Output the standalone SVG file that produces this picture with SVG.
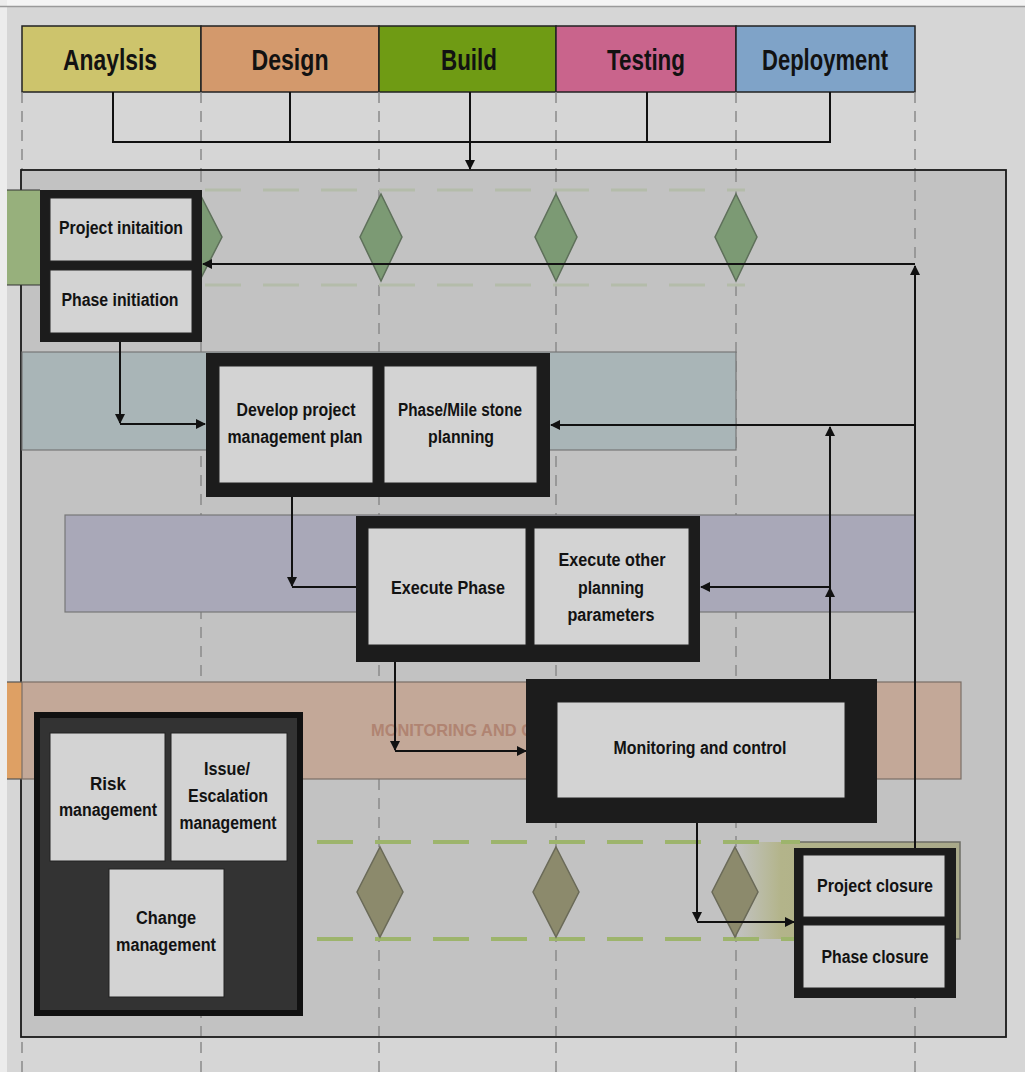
<svg xmlns="http://www.w3.org/2000/svg" width="1025" height="1072" viewBox="0 0 1025 1072">
  <defs>
    <marker id="ah" viewBox="0 0 10 10" refX="9" refY="5" markerWidth="10" markerHeight="10" markerUnits="userSpaceOnUse" orient="auto">
      <path d="M0,0 L10,5 L0,10 z" fill="#111"/>
    </marker>
    <linearGradient id="closeband" x1="0" y1="0" x2="1" y2="0">
      <stop offset="0" stop-color="#b4b890" stop-opacity="0"/>
      <stop offset="0.2" stop-color="#b3b48a"/>
      <stop offset="1" stop-color="#a9a98a"/>
    </linearGradient>
    <style>
      .hdr { stroke: #222; stroke-width: 1.5; }
      .htxt { font-family: "Liberation Sans Narrow", "Liberation Sans", Arial, sans-serif; font-weight: bold; font-size: 30px; fill: #121212; text-anchor: middle; }
      .ntxt { font-family: "Liberation Sans Narrow", "Liberation Sans", Arial, sans-serif; font-weight: bold; font-size: 18px; fill: #121212; text-anchor: middle; }
      .outer { fill: #1c1c1c; }
      .inner { fill: #d3d3d3; stroke: #222; stroke-width: 1; }
      .vdash { stroke: #8a8a8a; stroke-width: 1.5; stroke-dasharray: 11 8; fill: none; }
      .conn { stroke: #111; stroke-width: 2; fill: none; }
      .ms1 { fill: #7c9a74; stroke: #5e705a; stroke-width: 1.5; }
      .ms2 { fill: #8c8a6c; stroke: #6a6a58; stroke-width: 1.5; }
      .mline1 { stroke: #b4bcaa; stroke-width: 3; stroke-dasharray: 36 22; fill: none; }
      .mline2 { stroke: #9db46c; stroke-width: 4; stroke-dasharray: 36 22; fill: none; }
    </style>
  </defs>

  <!-- page -->
  <rect x="0" y="0" width="1025" height="1072" fill="#d6d6d6"/>
  <rect x="0" y="0" width="1025" height="6" fill="#f4f4f4"/>
  <rect x="0" y="0" width="7" height="1072" fill="#ececec"/>
  <line x1="0" y1="6.5" x2="1025" y2="6.5" stroke="#9a9a9a" stroke-width="1.5"/>

  <!-- phase headers -->
  <g id="header-analysis">
    <rect class="hdr" x="22" y="26" width="179" height="66" fill="#cdc46c"/>
    <text class="htxt" x="110" y="70" textLength="94" lengthAdjust="spacingAndGlyphs">Anaylsis</text>
  </g>
  <g id="header-design">
    <rect class="hdr" x="201" y="26" width="178" height="66" fill="#d3996c"/>
    <text class="htxt" x="290" y="70" textLength="77" lengthAdjust="spacingAndGlyphs">Design</text>
  </g>
  <g id="header-build">
    <rect class="hdr" x="379" y="26" width="177" height="66" fill="#6f9b14"/>
    <text class="htxt" x="469" y="70" textLength="56" lengthAdjust="spacingAndGlyphs">Build</text>
  </g>
  <g id="header-testing">
    <rect class="hdr" x="556" y="26" width="180" height="66" fill="#c9648c"/>
    <text class="htxt" x="646" y="70" textLength="78" lengthAdjust="spacingAndGlyphs">Testing</text>
  </g>
  <g id="header-deployment">
    <rect class="hdr" x="736" y="26" width="179" height="66" fill="#7fa3c8"/>
    <text class="htxt" x="825" y="70" textLength="126" lengthAdjust="spacingAndGlyphs">Deployment</text>
  </g>

  <!-- phase boundary guides -->
  <g id="guides">
    <line class="vdash" x1="22" y1="92" x2="22" y2="1072"/>
    <line class="vdash" x1="201" y1="92" x2="201" y2="1072"/>
    <line class="vdash" x1="379" y1="92" x2="379" y2="1072"/>
    <line class="vdash" x1="556" y1="92" x2="556" y2="1072"/>
    <line class="vdash" x1="736" y1="92" x2="736" y2="1072"/>
    <line class="vdash" x1="915" y1="92" x2="915" y2="1072"/>
  </g>

  <!-- process frame -->
  <g id="frame">
    <rect x="21" y="170" width="985" height="867" fill="#c2c2c2" stroke="#1a1a1a" stroke-width="1.8"/>
    <line class="vdash" x1="201" y1="171" x2="201" y2="1036" stroke="#9a9a9a"/>
    <line class="vdash" x1="379" y1="171" x2="379" y2="1036" stroke="#9a9a9a"/>
    <line class="vdash" x1="556" y1="171" x2="556" y2="1036" stroke="#9a9a9a"/>
    <line class="vdash" x1="736" y1="171" x2="736" y2="1036" stroke="#9a9a9a"/>
    <line class="vdash" x1="915" y1="171" x2="915" y2="1036" stroke="#9a9a9a"/>
  </g>

  <!-- swim bands -->
  <g id="bands">
    <rect x="7" y="190" width="33" height="95" fill="#97b07c"/>
    <line x1="7" y1="190" x2="40" y2="190" stroke="#333" stroke-width="1.2"/>
    <line x1="7" y1="285" x2="40" y2="285" stroke="#333" stroke-width="1.2"/>
    <rect x="22" y="352" width="714" height="98" fill="#a9b5b7" stroke="#777" stroke-width="1.2"/>
    <rect x="65" y="515" width="850" height="97" fill="#a9a8b8" stroke="#777" stroke-width="1.2"/>
    <rect x="7" y="682" width="15" height="97" fill="#dea064"/>
    <rect x="22" y="682" width="939" height="97" fill="#c3a898" stroke="#7a6e66" stroke-width="1.2"/>
    <line x1="7" y1="682" x2="22" y2="682" stroke="#555" stroke-width="1.2"/>
    <line x1="7" y1="779" x2="22" y2="779" stroke="#555" stroke-width="1.2"/>
    <text x="371" y="736" font-family="Liberation Sans Narrow, Liberation Sans, sans-serif" font-weight="bold" font-size="17" fill="#b08472" textLength="162" lengthAdjust="spacingAndGlyphs">MONITORING AND C</text>
    <rect x="736" y="842" width="224" height="97" fill="url(#closeband)"/>
    <path d="M800 842 H960 V939 H800" fill="none" stroke="#6e6e66" stroke-width="1.5"/>
  </g>

  <!-- milestones -->
  <g id="milestones">
    <line class="mline1" x1="205" y1="190" x2="745" y2="190"/>
    <line class="mline1" x1="205" y1="285" x2="745" y2="285"/>
    <polygon class="ms1" points="201,196 222,237 201,278 180,237"/>
    <polygon class="ms1" points="381,194 402,237 381,281 360,237"/>
    <polygon class="ms1" points="556,194 577,237 556,281 535,237"/>
    <polygon class="ms1" points="736,194 757,237 736,281 715,237"/>
    <line class="mline2" x1="317" y1="842" x2="800" y2="842"/>
    <line class="mline2" x1="317" y1="939" x2="800" y2="939"/>
    <polygon class="ms2" points="380,847 403,892 380,937 357,892"/>
    <polygon class="ms2" points="556,847 579,892 556,937 533,892"/>
    <polygon class="ms2" points="735,847 758,892 735,937 712,892"/>
  </g>

  <!-- connectors -->
  <g id="connectors">
    <path class="conn" d="M113 92 V142 H830 V92" stroke-width="1.6"/>
    <path class="conn" d="M290 92 V142 M647 92 V142" stroke-width="1.6"/>
    <path class="conn" d="M470 92 V169" stroke-width="1.6" marker-end="url(#ah)"/>
    <path class="conn" d="M120 342 V423" marker-end="url(#ah)"/>
    <path class="conn" d="M120 424 H205" marker-end="url(#ah)"/>
    <path class="conn" d="M292 497 V586" marker-end="url(#ah)"/>
    <path class="conn" d="M292 587 H356"/>
    <path class="conn" d="M395 662 V750" marker-end="url(#ah)"/>
    <path class="conn" d="M395 751 H526" marker-end="url(#ah)"/>
    <path class="conn" d="M697 823 V921" marker-end="url(#ah)"/>
    <path class="conn" d="M697 922 H794" marker-end="url(#ah)"/>
    <path class="conn" d="M915 848 V266" marker-end="url(#ah)"/>
    <path class="conn" d="M915 264 H203" marker-end="url(#ah)"/>
    <path class="conn" d="M915 425 H551" marker-end="url(#ah)"/>
    <path class="conn" d="M830 679 V588" marker-end="url(#ah)"/>
    <path class="conn" d="M830 588 V427" marker-end="url(#ah)"/>
    <path class="conn" d="M830 587 H701" marker-end="url(#ah)"/>
  </g>

  <!-- initiation -->
  <g id="node-initiation">
    <rect class="outer" x="40" y="190" width="162" height="152"/>
    <rect class="inner" x="50" y="198" width="142" height="63"/>
    <rect class="inner" x="50" y="270" width="142" height="63"/>
    <text class="ntxt" x="121" y="234" textLength="124" lengthAdjust="spacingAndGlyphs">Project initaition</text>
    <text class="ntxt" x="120" y="306" textLength="117" lengthAdjust="spacingAndGlyphs">Phase initiation</text>
  </g>

  <!-- planning -->
  <g id="node-planning">
    <rect class="outer" x="206" y="353" width="344" height="144"/>
    <rect class="inner" x="219" y="366" width="154" height="117"/>
    <rect class="inner" x="384" y="366" width="153" height="117"/>
    <text class="ntxt" x="296" y="416" textLength="119" lengthAdjust="spacingAndGlyphs">Develop project</text>
    <text class="ntxt" x="295" y="443" textLength="135" lengthAdjust="spacingAndGlyphs">management plan</text>
    <text class="ntxt" x="460" y="416" textLength="124" lengthAdjust="spacingAndGlyphs">Phase/Mile stone</text>
    <text class="ntxt" x="461" y="443" textLength="66" lengthAdjust="spacingAndGlyphs">planning</text>
  </g>

  <!-- execution -->
  <g id="node-execution">
    <rect class="outer" x="356" y="516" width="344" height="146"/>
    <rect class="inner" x="368" y="528" width="158" height="117"/>
    <rect class="inner" x="534" y="528" width="155" height="117"/>
    <text class="ntxt" x="448" y="594" textLength="114" lengthAdjust="spacingAndGlyphs">Execute Phase</text>
    <text class="ntxt" x="612" y="566" textLength="107" lengthAdjust="spacingAndGlyphs">Execute other</text>
    <text class="ntxt" x="611" y="594" textLength="66" lengthAdjust="spacingAndGlyphs">planning</text>
    <text class="ntxt" x="611" y="621" textLength="87" lengthAdjust="spacingAndGlyphs">parameters</text>
  </g>

  <!-- monitoring -->
  <g id="node-monitoring">
    <rect class="outer" x="526" y="679" width="351" height="144"/>
    <rect class="inner" x="557" y="702" width="288" height="96"/>
    <text class="ntxt" x="700" y="754" font-size="19" textLength="173" lengthAdjust="spacingAndGlyphs">Monitoring and control</text>
  </g>

  <!-- management areas -->
  <g id="node-management">
    <rect x="37" y="715" width="263" height="298" fill="#333" stroke="#111" stroke-width="6"/>
    <rect class="inner" x="50" y="733" width="115" height="128"/>
    <rect class="inner" x="171" y="733" width="116" height="128"/>
    <rect class="inner" x="109" y="869" width="115" height="128"/>
    <text class="ntxt" x="108" y="790" textLength="36" lengthAdjust="spacingAndGlyphs">Risk</text>
    <text class="ntxt" x="108" y="816" textLength="98" lengthAdjust="spacingAndGlyphs">management</text>
    <text class="ntxt" x="227" y="775" textLength="46" lengthAdjust="spacingAndGlyphs">Issue/</text>
    <text class="ntxt" x="228" y="802" textLength="80" lengthAdjust="spacingAndGlyphs">Escalation</text>
    <text class="ntxt" x="228" y="829" textLength="97" lengthAdjust="spacingAndGlyphs">management</text>
    <text class="ntxt" x="166" y="924" textLength="60" lengthAdjust="spacingAndGlyphs">Change</text>
    <text class="ntxt" x="166" y="951" textLength="100" lengthAdjust="spacingAndGlyphs">management</text>
  </g>

  <!-- closure -->
  <g id="node-closure">
    <rect class="outer" x="794" y="848" width="162" height="150"/>
    <rect class="inner" x="803" y="855" width="142" height="62"/>
    <rect class="inner" x="803" y="925" width="142" height="63"/>
    <text class="ntxt" x="875" y="892" textLength="116" lengthAdjust="spacingAndGlyphs">Project closure</text>
    <text class="ntxt" x="875" y="963" textLength="107" lengthAdjust="spacingAndGlyphs">Phase closure</text>
  </g>
</svg>
